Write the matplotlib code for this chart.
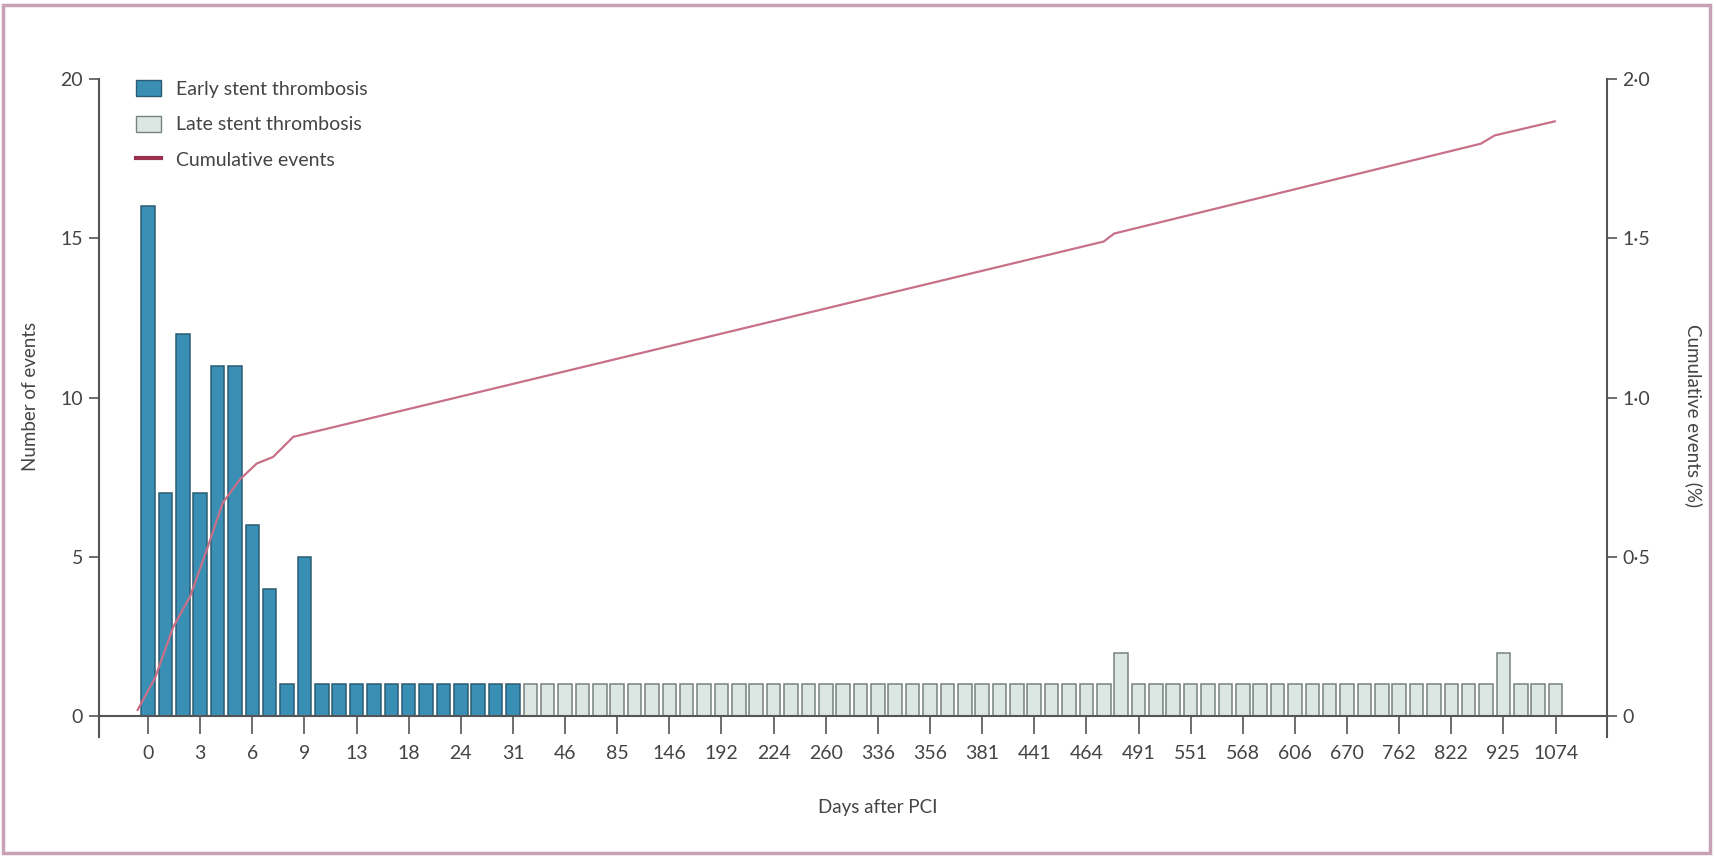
import numpy as np
import matplotlib
matplotlib.use("Agg")
import matplotlib.pyplot as plt
from matplotlib.patches import Patch, Rectangle
from matplotlib.lines import Line2D
from matplotlib.ticker import FuncFormatter

plt.rcParams["font.family"] = ["Lato", "DejaVu Sans"]

# ------------------------------------------------------------
# data: one bar per follow-up day on a categorical axis
# ------------------------------------------------------------
early_counts = [16, 7, 12, 7, 11, 11, 6, 4, 1, 5, 1,
                1, 1, 1, 1, 1, 1, 1, 1, 1, 1, 1]
late_counts = [1, 1, 1, 1, 1, 1, 1, 1, 1, 1,
               1, 1, 1, 1, 1, 1, 1, 1, 1, 1,
               1, 1, 1, 1, 1, 1, 1, 1, 1, 1,
               1, 1, 1, 1, 2, 1, 1, 1, 1, 1,
               1, 1, 1, 1, 1, 1, 1, 1, 1, 1,
               1, 1, 1, 1, 1, 1, 2, 1, 1, 1]
day_labels = [0, 3, 6, 9, 13, 18, 24, 31, 46, 85, 146, 192, 224, 260,
              336, 356, 381, 441, 464, 491, 551, 568, 606, 670, 762,
              822, 925, 1074]

# cumulative events (%) vertices, x in bar-slot units
cum_pos = [-0.6, 0.4, 1.45, 2.42, 3.41, 4.3, 5.3, 6.25, 7.2, 8.36,
           55.0, 55.6, 76.7, 77.5, 80.95]
cum_pct = [0.02, 0.12, 0.28, 0.376, 0.527, 0.67, 0.744, 0.793, 0.814,
           0.877, 1.49, 1.515, 1.797, 1.823, 1.867]

BLUE = "#3a8fb5"
BLUE_EDGE = "#2b5c73"
LIGHT = "#dce7e4"
LIGHT_EDGE = "#76827f"
LINE = "#c87088"
AXIS = "#555555"
TEXT = "#444444"

W, H = 1716, 856
fig = plt.figure(figsize=(W / 100, H / 100), dpi=100)
ax = fig.add_axes([98.5 / W, 1 - 737 / H, (1607 - 98.5) / W, (737 - 79) / H])

n_early = len(early_counts)
x_early = np.arange(n_early)
x_late = np.arange(n_early, n_early + len(late_counts))

ax.bar(x_early, early_counts, width=0.78, color=BLUE, edgecolor=BLUE_EDGE,
       linewidth=1.1, zorder=2)
ax.bar(x_late, late_counts, width=0.78, color=LIGHT, edgecolor=LIGHT_EDGE,
       linewidth=1.1, zorder=2)

ax.set_xlim(-2.85, 83.96)
ax.set_ylim(-0.65, 20)
ax.set_yticks([0, 5, 10, 15, 20])
ax.set_xticks(np.arange(len(day_labels)) * 3)
ax.set_xticklabels([str(d) for d in day_labels])

for s in ["top", "right"]:
    ax.spines[s].set_visible(False)
ax.spines["bottom"].set_position(("data", 0))
for s in ["left", "bottom"]:
    ax.spines[s].set_color(AXIS)
    ax.spines[s].set_linewidth(1.5)

ax.tick_params(axis="x", direction="out", length=13, width=1.2, color=AXIS,
               pad=8, labelsize=14, labelcolor=TEXT)
ax.tick_params(axis="y", direction="out", length=7, width=1.2, color=AXIS,
               pad=4, labelsize=14, labelcolor=TEXT)

# right axis: cumulative events
ax2 = ax.twinx()
ax2.plot(cum_pos, cum_pct, color=LINE, linewidth=1.6, zorder=3)
ax2.set_ylim(-0.065, 2.0)
ax2.set_yticks([0, 0.5, 1.0, 1.5, 2.0])
ax2.yaxis.set_major_formatter(
    FuncFormatter(lambda v, _: "0" if v == 0 else f"{v:.1f}".replace(".", "·")))
for s in ["top", "left", "bottom"]:
    ax2.spines[s].set_visible(False)
ax2.spines["right"].set_color(AXIS)
ax2.spines["right"].set_linewidth(1.5)
ax2.tick_params(axis="y", direction="out", length=7, width=1.2, color=AXIS,
                pad=4, labelsize=14, labelcolor=TEXT)

handles = [
    Patch(facecolor=BLUE, edgecolor=BLUE_EDGE, linewidth=1.0),
    Patch(facecolor=LIGHT, edgecolor=LIGHT_EDGE, linewidth=1.0),
    Line2D([], [], color="#9b3050", linewidth=3),
]
ax2.legend(handles, ["Early stent thrombosis", "Late stent thrombosis",
                     "Cumulative events"],
           loc="upper left", bbox_to_anchor=(0.025, 0.998), frameon=False,
           fontsize=14, labelcolor=TEXT, handlelength=1.3, handleheight=0.9,
           handletextpad=0.75, labelspacing=0.9, borderpad=0, borderaxespad=0)

fig.text(30 / W, 1 - 396 / H, "Number of events", rotation=90, ha="center",
         va="center", fontsize=13.5, color=TEXT)
fig.text(1694 / W, 1 - 416 / H, "Cumulative events (%)", rotation=270,
         ha="center", va="center", fontsize=13.5, color=TEXT)
fig.text(878 / W, 1 - 807 / H, "Days after PCI", ha="center", va="center",
         fontsize=13.5, color=TEXT)

# thin mauve frame round the whole figure
fig.patches.append(Rectangle((3 / W, 3 / H), (1710 - 3) / W, (851 - 3) / H,
                             transform=fig.transFigure, fill=False,
                             edgecolor="#c8a2b4", linewidth=2.5))

fig.savefig("out.png", dpi=100, facecolor="white")
